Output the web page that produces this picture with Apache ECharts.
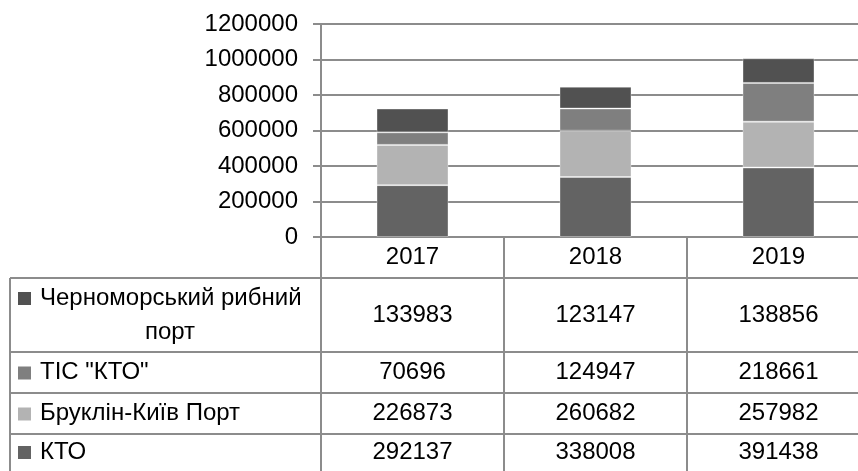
<!DOCTYPE html>
<html>
<head>
<meta charset="utf-8">
<script src="https://cdn.jsdelivr.net/npm/echarts@6/dist/echarts.min.js"></script>
<style>
  html, body { margin: 0; padding: 0; background: #fff; }
  #main { width: 858px; height: 471px; }
</style>
</head>
<body>
<div id="main"></div>
<script>
// дані
var years = ['2017', '2018', '2019'];
var seriesNames = ['КТО', 'Бруклін-Київ Порт', 'ТІС "КТО"', 'Черноморський рибний порт'];
var kto = [292137, 338008, 391438];
var brooklyn = [226873, 260682, 257982];
var tis = [70696, 124947, 218661];
var fishPort = [133983, 123147, 138856];
var yTicks = [0, 200000, 400000, 600000, 800000, 1000000, 1200000];

var colors = ['#636363', '#b3b3b3', '#7f7f7f', '#515151'];
var allData = [kto, brooklyn, tis, fishPort];
var font = '"Liberation Sans", Arial, sans-serif';
var fontSize = 24;
var lineColor = '#8c8c8c';

var chart = echarts.init(document.getElementById('main'));

var series = [];
for (var i = 0; i < allData.length; i++) {
    series.push({
        name: seriesNames[i],
        type: 'bar',
        stack: 'total',
        barWidth: 72,
        data: allData[i],
        itemStyle: {
            color: colors[i],
            borderColor: 'rgba(255,255,255,0.35)',
            borderWidth: 1
        }
    });
}

var option = {
    animation: false,
    grid: { left: 321, top: 24, width: 549, height: 213, containLabel: false, outerBoundsMode: 'none' },
    xAxis: {
        type: 'category',
        data: years,
        axisLine: { lineStyle: { color: lineColor, width: 2 } },
        // вертикальні лінії таблиці
        axisTick: { show: true, length: 240, lineStyle: { color: lineColor, width: 2 } },
        axisLabel: { margin: 8, fontSize: fontSize, color: '#000', fontFamily: font }
    },
    yAxis: {
        type: 'value',
        min: yTicks[0],
        max: yTicks[yTicks.length - 1],
        interval: 200000,
        axisLine: { show: true, lineStyle: { color: lineColor, width: 2 } },
        axisTick: { show: true, length: 8, lineStyle: { color: lineColor, width: 2 } },
        splitLine: { lineStyle: { color: lineColor, width: 2 } },
        axisLabel: {
            margin: 23, fontSize: fontSize, color: '#000', fontFamily: font,
            formatter: function (v) { return String(v); }
        }
    },
    series: series
};
chart.setOption(option);

// таблиця даних під графіком
var rowTops = [278, 352, 393, 434];
var rowMids = [315, 372.5, 413.5, 452];
var rowOrder = [3, 2, 1, 0];
var tFont = fontSize + 'px ' + font;
var graphics = [];

for (var r = 0; r < rowTops.length; r++) {
    graphics.push({
        type: 'line',
        shape: { x1: 10, y1: rowTops[r], x2: 858, y2: rowTops[r] },
        style: { stroke: lineColor, lineWidth: 2 }
    });
}
graphics.push({
    type: 'line',
    shape: { x1: 10, y1: 278, x2: 10, y2: 471 },
    style: { stroke: lineColor, lineWidth: 2 }
});

for (var r = 0; r < rowOrder.length; r++) {
    var s = rowOrder[r];
    var sqY = r === 0 ? 292 : rowMids[r] - 6;
    graphics.push({
        type: 'rect',
        shape: { x: 18, y: sqY, width: 13, height: 13 },
        style: { fill: colors[s] }
    });
    if (r === 0) {
        graphics.push({
            type: 'text',
            style: { x: 40, y: 298, text: 'Черноморський рибний', font: tFont, fill: '#000', align: 'left', verticalAlign: 'middle' }
        });
        graphics.push({
            type: 'text',
            style: { x: 170, y: 332, text: 'порт', font: tFont, fill: '#000', align: 'center', verticalAlign: 'middle' }
        });
    } else {
        graphics.push({
            type: 'text',
            style: { x: 40, y: rowMids[r], text: seriesNames[s], font: tFont, fill: '#000', align: 'left', verticalAlign: 'middle' }
        });
    }
    for (var c = 0; c < years.length; c++) {
        var px = chart.convertToPixel({ xAxisIndex: 0 }, years[c]);
        graphics.push({
            type: 'text',
            style: { x: px, y: rowMids[r], text: String(allData[s][c]), font: tFont, fill: '#000', align: 'center', verticalAlign: 'middle' }
        });
    }
}

chart.setOption({ graphic: graphics });
</script>
</body>
</html>
